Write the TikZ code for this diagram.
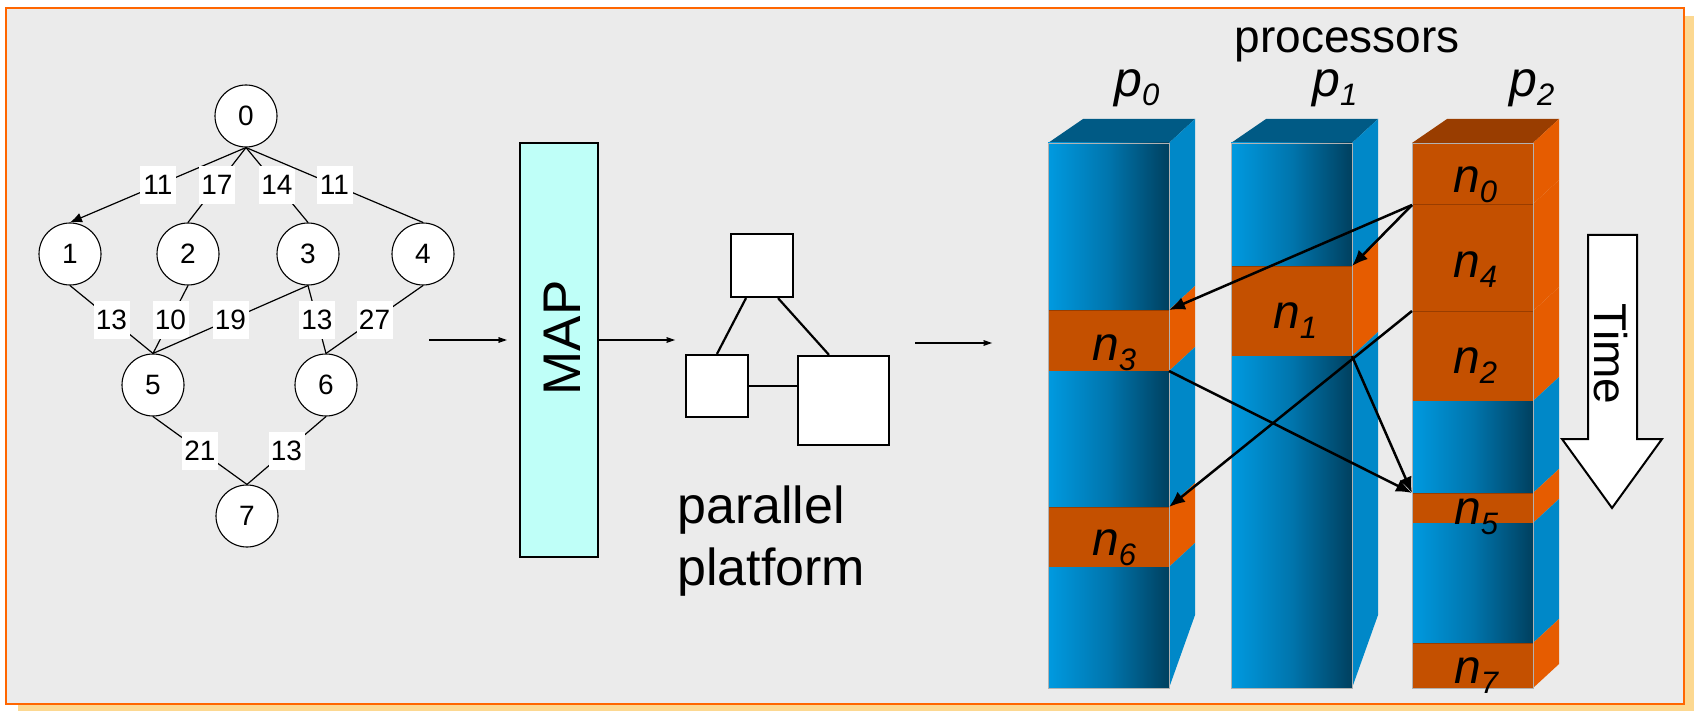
\documentclass[tikz,border=0pt]{standalone}
\usepackage{fontspec}
\setmainfont{Liberation Sans}
\usetikzlibrary{arrows.meta,calc}
\definecolor{framec}{HTML}{FF6600}
\definecolor{bgc}{HTML}{EBEBEB}
\definecolor{shadowc}{HTML}{FCD891}
\definecolor{mapc}{HTML}{BFFFF8}
\definecolor{blueL}{HTML}{009AE0}
\definecolor{blueM}{HTML}{0075AD}
\definecolor{blueD}{HTML}{00405F}
\definecolor{blueS}{HTML}{0088C8}
\definecolor{blueT}{HTML}{005A85}
\definecolor{orF}{HTML}{C45000}
\definecolor{orS}{HTML}{E65C00}
\definecolor{orT}{HTML}{993D00}
\newcommand\nsub[1]{\raisebox{-10pt}{\fontsize{31}{31}\selectfont #1}}
\newcommand\psub[1]{\raisebox{-9pt}{\fontsize{31}{31}\selectfont #1}}
% blue segment: left, top, bottom
\newcommand\bseg[3]{%
  \fill[left color=blueL,right color=blueD,middle color=blueM] (#1,#2) rectangle ({#1+121},#3);
  \fill[blueS] ({#1+121},#2) -- ({#1+147},{#2-24}) -- ({#1+147},{#3-24}) -- ({#1+121},#3) -- cycle;}
% last blue segment with slanted bottom
\newcommand\bsegend[3]{%
  \fill[left color=blueL,right color=blueD,middle color=blueM] (#1,#2) rectangle ({#1+121},#3);
  \fill[blueS] ({#1+121},#2) -- ({#1+147},{#2-24}) -- ({#1+147},{#3-73}) -- ({#1+121},#3) -- cycle;}
% orange segment
\newcommand\oseg[3]{%
  \fill[orF] (#1,#2) rectangle ({#1+121},#3);
  \fill[orS] ({#1+121},#2) -- ({#1+147},{#2-24}) -- ({#1+147},{#3-24}) -- ({#1+121},#3) -- cycle;
  \draw[orT,line width=0.8pt] (#1,#2) -- ({#1+121},#2);
  \draw[orT,line width=0.8pt] (#1,#3) -- ({#1+121},#3);}
\tikzset{
  tnode/.style={circle,draw=black,line width=1.1pt,fill=white,minimum size=62pt,inner sep=0pt,font=\fontsize{28}{30}\selectfont},
  elab/.style={fill=white,inner sep=0pt,minimum width=36pt,minimum height=38pt,font=\fontsize{28}{30}\selectfont},
  dagedge/.style={line width=1.2pt},
  flow/.style={line width=2pt,-{Stealth[length=20pt,width=14pt,inset=15pt]}},
  sched/.style={line width=2.5pt,-{Latex[length=16pt,width=13pt]}},
  pbox/.style={draw=black,line width=2.2pt,fill=white,inner sep=0pt},
  nlab/.style={anchor=base west,inner sep=0pt,font=\fontsize{48}{50}\selectfont\itshape},
  plab/.style={anchor=base west,inner sep=0pt,font=\fontsize{50}{52}\selectfont\itshape},
  bigtxt/.style={inner sep=0pt,font=\fontsize{52}{56}\selectfont},
}
\begin{document}
\begin{tikzpicture}[x=1pt,y=-1pt]
\useasboundingbox (0,0) rectangle (1694,711);
% frame
\fill[shadowc] (18,16) rectangle (1694,711);
\draw[framec,fill=bgc,line width=2.5pt] (6,8) rectangle (1684,704);

% ---- task graph ----
\node[tnode] (d0) at (246,116) {0};
\node[tnode] (d1) at (70,254) {1};
\node[tnode] (d2) at (188,254) {2};
\node[tnode] (d3) at (308,254) {3};
\node[tnode] (d4) at (423,254) {4};
\node[tnode] (d5) at (153,385) {5};
\node[tnode] (d6) at (326,385) {6};
\node[tnode] (d7) at (247,516) {7};
\draw[dagedge,-{Latex[length=12pt,width=10pt]}] (d0.south) -- (d1.north) node[elab,midway] {11};
\draw[dagedge] (d0.south) -- (d2.north) node[elab,midway] {17};
\draw[dagedge] (d0.south) -- (d3.north) node[elab,midway] {14};
\draw[dagedge] (d0.south) -- (d4.north) node[elab,midway] {11};
\draw[dagedge] (d1.south) -- (d5.north) node[elab,midway] {13};
\draw[dagedge] (d2.south) -- (d5.north) node[elab,midway] {10};
\draw[dagedge] (d3.south) -- (d5.north) node[elab,midway] {19};
\draw[dagedge] (d3.south) -- (d6.north) node[elab,midway] {13};
\draw[dagedge] (d4.south) -- (d6.north) node[elab,midway] {27};
\draw[dagedge] (d5.south) -- (d7.north) node[elab,midway] {21};
\draw[dagedge] (d6.south) -- (d7.north) node[elab,midway] {13};

% ---- MAP ----
\node[draw=black,line width=2.2pt,fill=mapc,minimum width=78pt,minimum height=414pt,inner sep=0pt] (map) at (559,350) {};
\node[rotate=90,inner sep=0pt,font=\fontsize{53}{56}\selectfont] (maptxt) at (562,338) {MAP};
\coordinate (a1s) at (429,340);
\coordinate (a2e) at (675,340);
\draw[flow,shorten >=12pt] (a1s) -- (a1s -| map.west);
\draw[flow] (map.east |- a1s) -- (a2e);

% ---- platform ----
\node[pbox,minimum width=62pt,minimum height=63pt] (sq1) at (762,265.5) {};
\node[pbox,minimum width=62pt,minimum height=62pt] (sq2) at (717,386) {};
\node[pbox,minimum width=91pt,minimum height=89pt] (sq3) at (843.5,400.5) {};
\draw[line width=2.2pt] ($(sq1.south)+(-16,0)$) -- (sq2.north);
\draw[line width=2.2pt] ($(sq1.south)+(16,0)$) -- ($(sq3.north)+(-14.5,0)$);
\draw[line width=2.2pt] (sq2.east) -- (sq2.east -| sq3.west);
\node[bigtxt,anchor=base west] (par1) at (677,523) {parallel};
\node[bigtxt,anchor=base west] (par2) at (677,585) {platform};
\coordinate (a3s) at (915,343);
\coordinate (a3e) at (992,343);
\draw[flow] (a3s) -- (a3e);

% ---- processors ----
\node[anchor=base,inner sep=0pt,font=\fontsize{46}{48}\selectfont] (proc) at (1347,53) {processors};
\node[plab] (lp0) at (1114,97) {p\psub{0}};
\node[plab] (lp1) at (1312,97) {p\psub{1}};
\node[plab] (lp2) at (1509,97) {p\psub{2}};

% p0
\fill[blueT] (1048,143) -- (1083,119) -- (1195,119) -- (1169,143) -- cycle;
\bseg{1048}{143}{310}
\oseg{1048}{310}{371}
\bseg{1048}{371}{507}
\oseg{1048}{507}{567}
\bsegend{1048}{567}{688}
\draw[black!30,line width=0.7pt] (1048,143) rectangle (1169,688);
% p1
\fill[blueT] (1231,143) -- (1266,119) -- (1378,119) -- (1352,143) -- cycle;
\bseg{1231}{143}{266}
\oseg{1231}{266}{356}
\bsegend{1231}{356}{688}
\draw[black!30,line width=0.7pt] (1231,143) rectangle (1352,688);
% p2
\fill[orT] (1412,143) -- (1447,119) -- (1559,119) -- (1533,143) -- cycle;
\oseg{1412}{143}{204}
\oseg{1412}{204}{311}
\oseg{1412}{311}{401}
\bseg{1412}{401}{493}
\oseg{1412}{493}{523}
\bseg{1412}{523}{643}
\oseg{1412}{643}{688}
\draw[black!30,line width=0.7pt] (1412,143) rectangle (1533,688);

% task labels
\node[nlab] (ln3) at (1092,360) {n\nsub{3}};
\node[nlab] (ln6) at (1092,555) {n\nsub{6}};
\node[nlab] (ln1) at (1273,328) {n\nsub{1}};
\node[nlab] (ln0) at (1453,193) {n\nsub{0}};
\node[nlab] (ln4) at (1453,277) {n\nsub{4}};
\node[nlab] (ln2) at (1453,373) {n\nsub{2}};
\node[nlab] (ln5) at (1454,524) {n\nsub{5}};
\node[nlab] (ln7) at (1454,683) {n\nsub{7}};

% communication arrows
\coordinate (c0) at (1412,205);
\coordinate (c4) at (1412,311);
\coordinate (c1t) at (1352,266);
\coordinate (c3t) at (1169,310);
\coordinate (c6t) at (1169,507);
\coordinate (c3b) at (1169,371);
\coordinate (c1b) at (1352,356);
\coordinate (c5t) at (1412,493);
\draw[sched] (c0) -- (c1t);
\draw[sched] (c0) -- (c3t);
\draw[sched] (c4) -- (c6t);
\draw[sched] (c3b) -- (c5t);
\draw[sched] (c1b) -- (c5t);

% time arrow
\draw[line width=2pt,fill=white,line join=miter] (1588,235) -- (1637,235) -- (1637,439) -- (1662,439) -- (1612,508) -- (1562,439) -- (1588,439) -- cycle;
\node[rotate=-90,inner sep=0pt,font=\fontsize{46}{48}\selectfont] (time) at (1611,354) {Time};
\end{tikzpicture}
\end{document}
